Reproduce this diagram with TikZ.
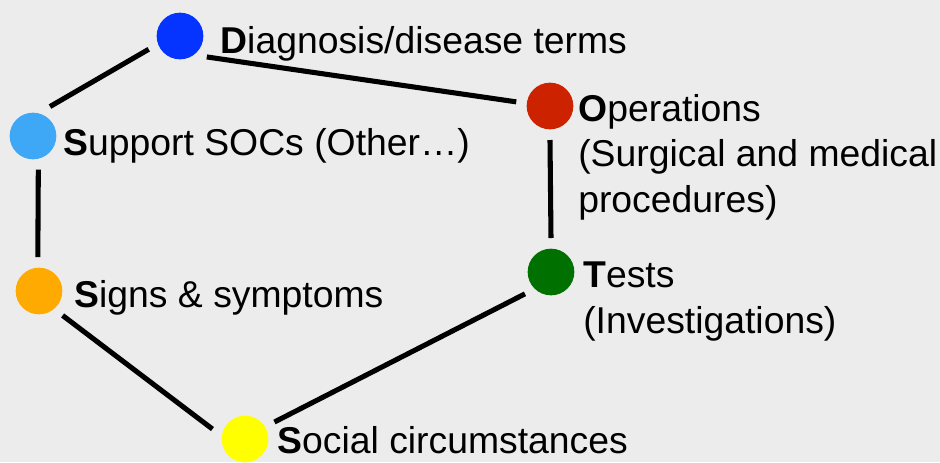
\documentclass[tikz,border=0pt]{standalone}
\usepackage{fontspec}
\setmainfont{Liberation Sans}

\definecolor{bgrey}{RGB}{236,236,236}
\definecolor{cdiag}{RGB}{5,51,255}
\definecolor{csupp}{RGB}{62,168,246}
\definecolor{coper}{RGB}{204,34,0}
\definecolor{ctest}{RGB}{0,112,0}
\definecolor{csign}{RGB}{255,170,0}
\definecolor{csoc}{RGB}{255,255,0}

\tikzset{
  dot/.style={circle,inner sep=0pt,minimum size=35pt,outer sep=8pt},
  link/.style={line width=3.8pt},
  lbl/.style={anchor=base west,inner sep=0pt,align=left,
    font=\fontsize{28}{34}\selectfont},
}

\begin{document}
\begin{tikzpicture}[x=0.75pt,y=-0.75pt]
\fill[bgrey] (0,0) rectangle (940,462);
\useasboundingbox (0,0) rectangle (940,462);

\node[dot,fill=cdiag] (diag) at (180,36)  {};
\node[dot,fill=csupp] (supp) at (33,136)  {};
\node[dot,fill=coper] (oper) at (550,106) {};
\node[dot,fill=ctest] (test) at (551,272) {};
\node[dot,fill=csign] (sign) at (39,291)  {};
\node[dot,fill=csoc]  (soc)  at (245,439) {};

\draw[link] (supp.60)  -- (diag.-157);
\draw[link] (diag.-38) -- (oper.173);
\draw[link] (oper.-90) -- (test.90);
\draw[link] (supp.-81) -- (sign.92);
\draw[link] (sign.-46) -- (soc.163);
\draw[link] (soc.30)   -- (test.-140);

% multi-line labels: base = last line
\node[lbl] (tdiag) at (220,53)  {{\bfseries D}iagnosis/disease terms};
\node[lbl] (tsupp) at (63,155)  {{\bfseries S}upport SOCs (Other…)};
\node[lbl] (toper) at (578,212) {{\bfseries O}perations\\(Surgical and medical\\procedures)};
\node[lbl] (ttest) at (583,333) {{\bfseries T}ests\\(Investigations)};
\node[lbl] (tsign) at (74,307)  {{\bfseries S}igns \& symptoms};
\node[lbl] (tsoc)  at (277,453) {{\bfseries S}ocial circumstances};
\end{tikzpicture}
\end{document}
